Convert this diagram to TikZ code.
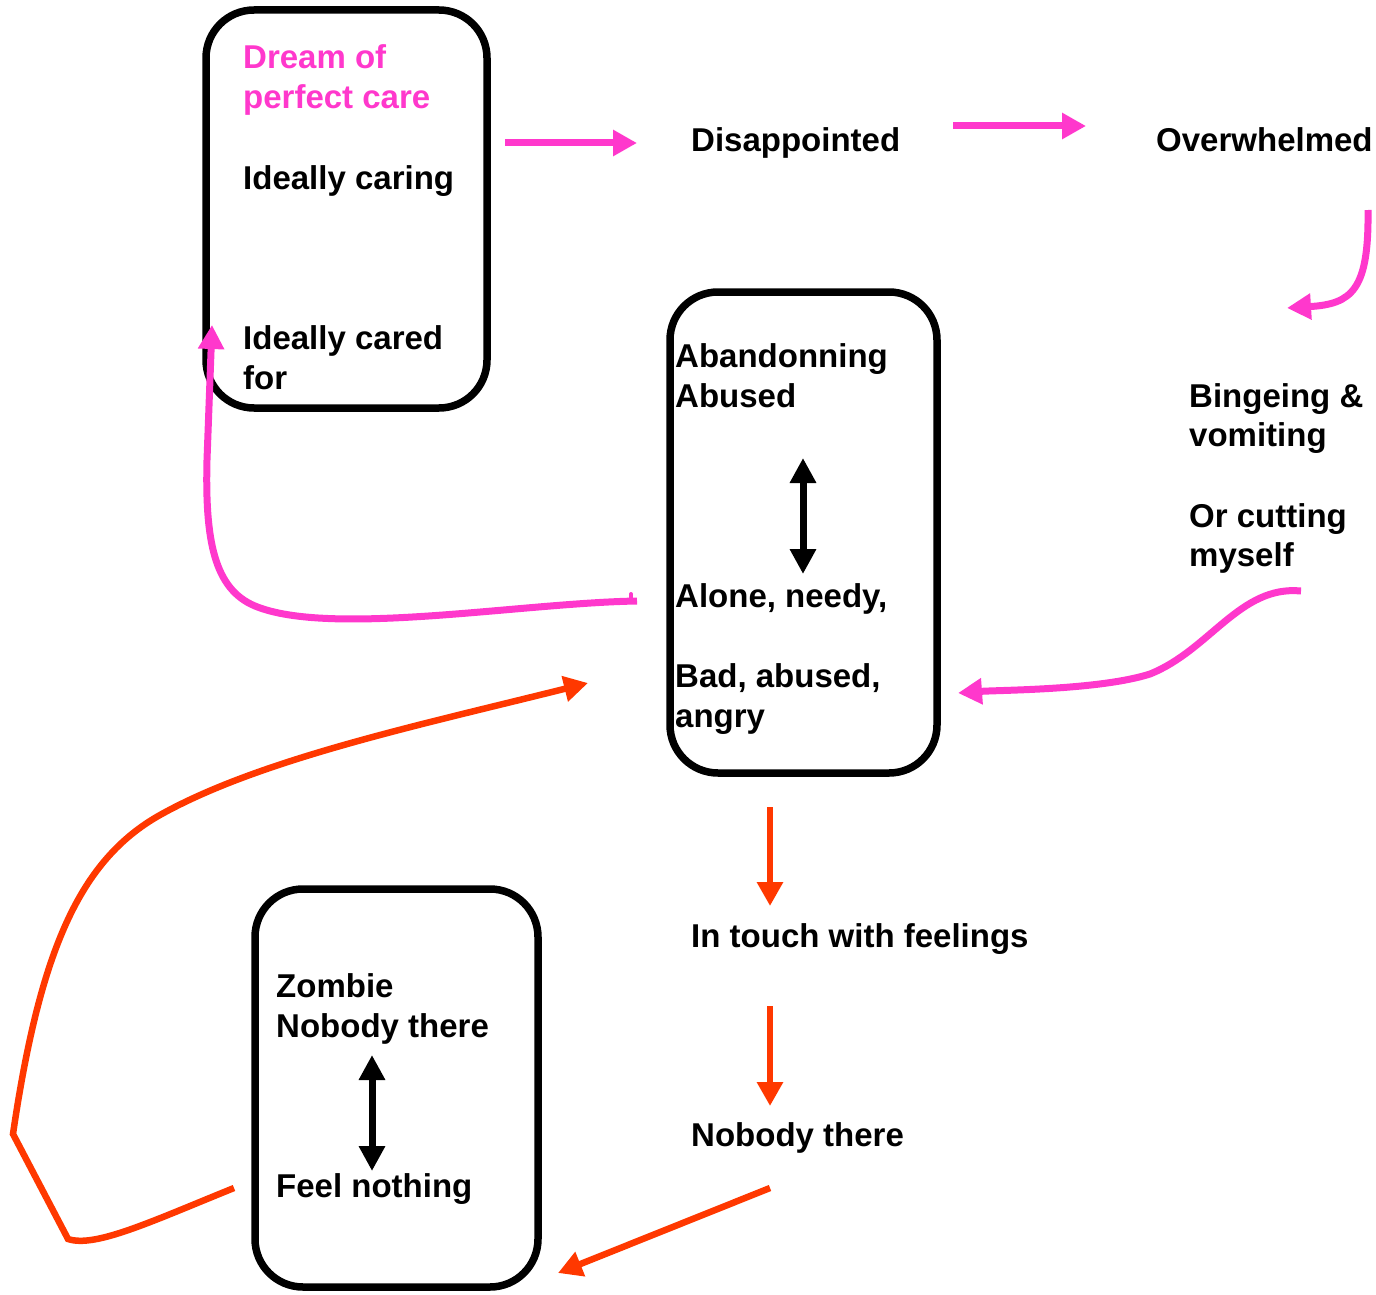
\documentclass[tikz,border=0pt]{standalone}
\usepackage{fontspec}
\setmainfont{Liberation Sans}
\usetikzlibrary{arrows.meta}
\definecolor{hotpink}{RGB}{255,56,204}
\definecolor{flame}{RGB}{255,56,0}
\begin{document}
\begin{tikzpicture}[x=1pt,y=-1pt,
  lbl/.style={anchor=base west,inner sep=0pt,font=\bfseries\fontsize{33}{40}\selectfont},
  card/.style={draw=black,line width=7.5pt,rounded corners=48pt,inner sep=0pt},
  pinkarrow/.style={draw=hotpink,line width=7pt,-{Triangle[length=24pt,width=25pt]}},
  redarrow/.style={draw=flame,line width=6.5pt,-{Triangle[length=24pt,width=25pt]}},
  bothways/.style={draw=black,line width=7pt,{Triangle[length=25pt,width=25pt]}-{Triangle[length=25pt,width=25pt]}}]
\useasboundingbox (0,0) rectangle (1376,1295);

% the three rounded cards
\node[card,minimum width=281pt,minimum height=398pt] (dream) at (346.5,209) {};
\node[card,minimum width=267pt,minimum height=481pt] (split) at (803.5,532.5) {};
\node[card,minimum width=283pt,minimum height=398pt] (zombie) at (396.5,1088) {};

% card contents
\node[lbl,text=hotpink] (d1) at (243,69) {Dream of};
\node[lbl,text=hotpink] (d2) at (243,109) {perfect care};
\node[lbl] (caring) at (243,189) {Ideally caring};
\node[lbl] (cared1) at (243,349) {Ideally cared};
\node[lbl] (cared2) at (243,389) {for};

\node[lbl] (aband) at (675,367) {Abandonning};
\node[lbl] (abused) at (675,407) {Abused};
\node[lbl] (alone) at (675,607) {Alone, needy,};
\node[lbl] (bad1) at (675,687) {Bad, abused,};
\node[lbl] (bad2) at (675,727) {angry};

\node[lbl] (zomb) at (276,997) {Zombie};
\node[lbl] (nobody1) at (276,1037) {Nobody there};
\node[lbl] (nothing) at (276,1197) {Feel nothing};

% free-standing states
\node[lbl] (disap) at (691,151) {Disappointed};
\node[lbl] (over) at (1156,151) {Overwhelmed};
\node[lbl] (binge1) at (1189,407) {Bingeing \&};
\node[lbl] (binge2) at (1189,446) {vomiting};
\node[lbl] (cut1) at (1189,527) {Or cutting};
\node[lbl] (cut2) at (1189,566) {myself};
\node[lbl] (touch) at (691,947) {In touch with feelings};
\node[lbl] (nobody2) at (691,1146) {Nobody there};

% connector end points
\coordinate (a1s) at (505,143);  \coordinate (a1e) at (637,143);
\coordinate (a2s) at (953,126);  \coordinate (a2e) at (1086,126);
\coordinate (a3s) at (1368,210); \coordinate (a3e) at (1287,308);
\coordinate (a4s) at (1301,591); \coordinate (a4e) at (958,693);
\coordinate (a5s) at (637,601);  \coordinate (a5e) at (212,325);
\coordinate (r1s) at (770,807);  \coordinate (r1e) at (770,906);
\coordinate (r2s) at (770,1006); \coordinate (r2e) at (770,1106);
\coordinate (r3s) at (770,1188); \coordinate (r3e) at (558,1273);
\coordinate (r4s) at (234,1188); \coordinate (r4e) at (588,683);
\coordinate (u1) at (803,458);   \coordinate (u2) at (803,574);
\coordinate (v1) at (372,1055);  \coordinate (v2) at (372,1171);

% pink cycle
\draw[pinkarrow] (a1s) -- (a1e);
\draw[pinkarrow] (a2s) -- (a2e);
\draw[pinkarrow] (a3s) .. controls (1369,290) and (1352,304) .. (a3e);
\draw[pinkarrow] (a4s) .. controls (1240,585) and (1210,650) .. (1150,674)
  .. controls (1100,690) and (1000,690) .. (a4e);
\draw[pinkarrow] (a5s) .. controls (520,603) and (330,637) .. (255,606)
  .. controls (214,589) and (205,540) .. (207,460) -- (a5e);
\draw[hotpink,line width=4pt,line cap=round] (631,601) -- (631,594);

% red cycle
\draw[redarrow] (r1s) -- (r1e);
\draw[redarrow] (r2s) -- (r2e);
\draw[redarrow] (r3s) -- (r3e);
\draw[redarrow] (r4s) .. controls (150,1222) and (95,1248) .. (68,1239)
  -- (13,1134) .. controls (40,950) and (80,860) .. (160,815)
  .. controls (260,759) and (420,725) .. (r4e);

% two-way arrows inside the cards
\draw[bothways] (u1) -- (u2);
\draw[bothways] (v1) -- (v2);
\end{tikzpicture}
\end{document}
